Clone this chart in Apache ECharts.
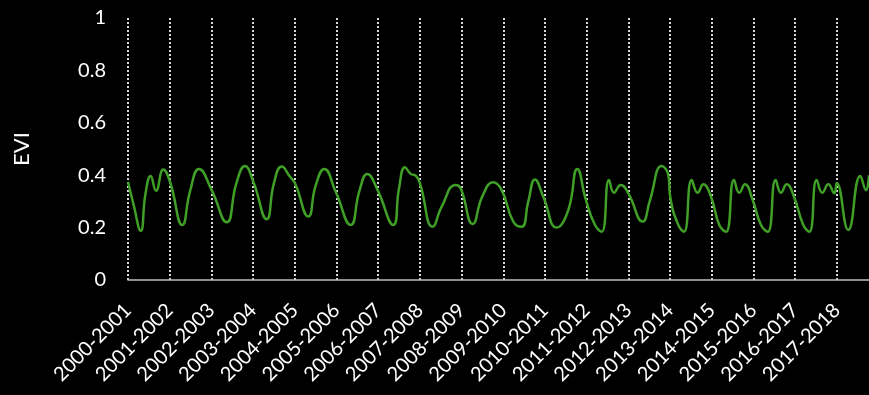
<!DOCTYPE html>
<html>
<head>
<meta charset="utf-8">
<script src="https://cdn.jsdelivr.net/npm/echarts@6/dist/echarts.min.js"></script>
<style>
html,body{margin:0;padding:0;background:#000;}
#chart{width:869px;height:395px;}
</style>
</head>
<body>
<div id="chart"></div>
<script>
// Season labels (one per year boundary)
var yearLabels = ['2000-2001','2001-2002','2002-2003','2003-2004','2004-2005','2005-2006',
  '2006-2007','2007-2008','2008-2009','2009-2010','2010-2011','2011-2012','2012-2013',
  '2013-2014','2014-2015','2015-2016','2016-2017','2017-2018'];
// Time in years since start of 2000-2001
var timeYears = [0,0.13,0.305,0.42,0.544,0.671,0.847,1.007,1.302,1.49,1.703,2.007,2.367,2.6,2.806,3.005,
  3.326,3.5,3.686,3.885,4.005,4.324,4.5,4.707,4.981,5.341,5.55,5.739,5.978,6.362,6.5,6.643,6.779,6.906,
  7.002,7.307,7.523,7.858,7.978,8.266,8.5,8.76,8.962,9.24,9.441,9.6,9.76,9.959,10.281,10.559,10.775,
  10.983,11.199,11.36,11.535,11.655,11.816,11.998,12.343,12.518,12.799,12.957,13.01,13.197,13.333,
  13.518,13.662,13.796,13.981,14.18,14.341,14.532,14.66,14.796,14.981,15.18,15.341,15.532,15.659,
  15.796,15.971,16.194,16.338,16.515,16.65,16.794,16.938,16.995,17.273,17.561,17.698,17.77];
// EVI values at those times
var eviValues = [0.375,0.29,0.188,0.33,0.397,0.341,0.422,0.375,0.21,0.34,0.424,0.343,0.22,0.37,0.435,0.375,
  0.232,0.37,0.433,0.394,0.369,0.242,0.36,0.424,0.337,0.21,0.34,0.405,0.346,0.21,0.35,0.430,0.405,0.397,
  0.369,0.203,0.28,0.363,0.35,0.214,0.32,0.373,0.343,0.223,0.203,0.3,0.384,0.318,0.2,0.267,0.424,
  0.305,0.21,0.184,0.382,0.333,0.363,0.331,0.223,0.305,0.435,0.401,0.31,0.21,0.184,
  0.382,0.333,0.365,0.318,0.21,0.184,0.382,0.333,0.365,0.305,0.21,0.184,0.382,0.333,
  0.365,0.318,0.21,0.184,0.382,0.333,0.365,0.331,0.369,0.191,0.397,0.343,0.40];
var yTicks = [0,0.2,0.4,0.6,0.8,1];

var seriesData = timeYears.map(function(t,i){return [t, eviValues[i]];});
var FONT = 'Lato, "Open Sans", sans-serif';
var chart = echarts.init(document.getElementById('chart'));
chart.setOption({
  backgroundColor:'#000',
  animation:false,
  grid:{left:128,right:0,top:18,bottom:115},
  xAxis:{
    type:'value', min:0, max:17.77, interval:1,
    axisLine:{show:true,lineStyle:{color:'#bfbfbf',width:1.5}},
    axisTick:{show:false},
    splitLine:{show:true,showMaxLine:false,lineStyle:{color:'#d9d9d9',width:2,type:[2,2]}},
    axisLabel:{
      rotate:45, margin:27, color:'#fff', fontSize:20, fontFamily:FONT,
      showMaxLabel:false,
      formatter:function(v){ return (Math.abs(v-Math.round(v))<1e-6 && yearLabels[Math.round(v)]) ? yearLabels[Math.round(v)] : ''; }
    }
  },
  yAxis:{
    type:'value', min:yTicks[0], max:yTicks[yTicks.length-1], interval:0.2,
    name:'EVI', nameLocation:'middle', nameGap:95,
    nameTextStyle:{color:'#fff',fontSize:22,fontFamily:FONT},
    axisLine:{show:false}, axisTick:{show:false}, splitLine:{show:false},
    axisLabel:{color:'#fff',fontSize:20,fontFamily:FONT,margin:22}
  },
  series:[{
    type:'line', data:seriesData, smooth:0.5, showSymbol:false,
    lineStyle:{color:'#3f9f26',width:2.5}
  }]
});
</script>
</body>
</html>
